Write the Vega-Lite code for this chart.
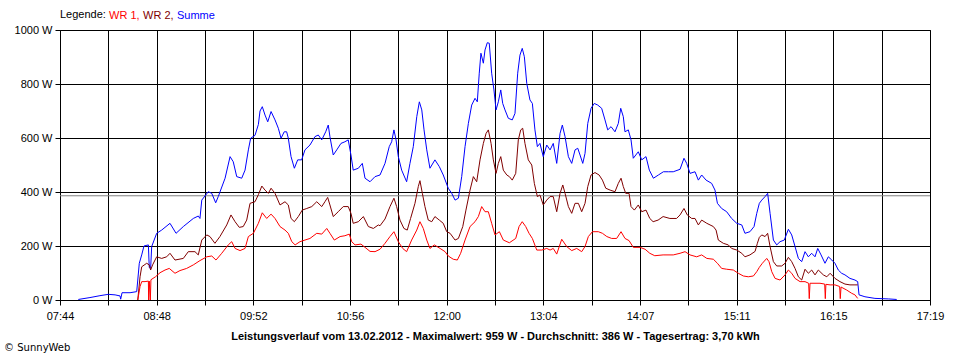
{
  "$schema": "https://vega.github.io/schema/vega-lite/v6.json",
  "width": 870,
  "height": 270,
  "autosize": "none",
  "padding": {"left": 60, "top": 30, "right": 30, "bottom": 60},
  "background": "white",
  "config": {
    "font": "Liberation Sans",
    "view": {"stroke": "black", "strokeWidth": 1},
    "axis": {"labelFont": "Liberation Sans", "labelFontSize": 11, "labelColor": "black", "titleFont": "Liberation Sans"}
  },
  "title": {"text": "© SunnyWeb", "orient": "bottom", "anchor": "start", "frame": "bounds", "fontSize": 10, "fontWeight": "normal", "color": "black", "offset": 2, "dx": -10, "font": "DejaVu Sans"},
  "layer": [
    {
      "data": {"values": [{"label": "Durchschnitt", "watt": 386}]},
      "mark": {"type": "rule", "color": "#808080", "strokeWidth": 1},
      "encoding": {"y": {"field": "watt", "type": "quantitative", "scale": {"domain": [0, 1000]}}}
    },
    {
      "data": {"values": [
        {"series":"Summe","minute":476.1,"watt":2},{"series":"Summe","minute":483.8,"watt":9},{"series":"Summe","minute":490.4,"watt":16},{"series":"Summe","minute":495.9,"watt":21},{"series":"Summe","minute":500.4,"watt":19},{"series":"Summe","minute":503.7,"watt":15},{"series":"Summe","minute":504.1,"watt":3},{"series":"Summe","minute":505.0,"watt":27},{"series":"Summe","minute":510.3,"watt":27},{"series":"Summe","minute":514.7,"watt":31},{"series":"Summe","minute":515.4,"watt":74},{"series":"Summe","minute":516.4,"watt":136},{"series":"Summe","minute":518.0,"watt":167},{"series":"Summe","minute":519.5,"watt":200},{"series":"Summe","minute":522.4,"watt":204},{"series":"Summe","minute":523.0,"watt":120},{"series":"Summe","minute":523.9,"watt":117},{"series":"Summe","minute":524.6,"watt":198},{"series":"Summe","minute":527.9,"watt":247},{"series":"Summe","minute":531.2,"watt":259},{"series":"Summe","minute":536.7,"watt":284},{"series":"Summe","minute":540.7,"watt":247},{"series":"Summe","minute":545.5,"watt":272},{"series":"Summe","minute":552.1,"watt":302},{"series":"Summe","minute":555.4,"watt":311},{"series":"Summe","minute":556.5,"watt":302},{"series":"Summe","minute":557.7,"watt":370},{"series":"Summe","minute":562.0,"watt":401},{"series":"Summe","minute":564.3,"watt":395},{"series":"Summe","minute":566.9,"watt":360},{"series":"Summe","minute":568.6,"watt":383},{"series":"Summe","minute":573.1,"watt":451},{"series":"Summe","minute":576.4,"watt":531},{"series":"Summe","minute":578.5,"watt":512},{"series":"Summe","minute":580.8,"watt":457},{"series":"Summe","minute":584.1,"watt":451},{"series":"Summe","minute":586.3,"watt":481},{"series":"Summe","minute":588.5,"watt":556},{"series":"Summe","minute":590.0,"watt":599},{"series":"Summe","minute":592.9,"watt":610},{"series":"Summe","minute":595.1,"watt":650},{"series":"Summe","minute":596.2,"watt":700},{"series":"Summe","minute":597.7,"watt":716},{"series":"Summe","minute":599.5,"watt":685},{"series":"Summe","minute":601.3,"watt":660},{"series":"Summe","minute":603.5,"watt":698},{"series":"Summe","minute":606.1,"watt":667},{"series":"Summe","minute":608.3,"watt":636},{"series":"Summe","minute":610.1,"watt":599},{"series":"Summe","minute":612.2,"watt":623},{"series":"Summe","minute":613.8,"watt":623},{"series":"Summe","minute":614.9,"watt":599},{"series":"Summe","minute":616.7,"watt":531},{"series":"Summe","minute":618.9,"watt":488},{"series":"Summe","minute":621.1,"watt":519},{"series":"Summe","minute":623.7,"watt":519},{"series":"Summe","minute":625.9,"watt":556},{"series":"Summe","minute":629.2,"watt":574},{"series":"Summe","minute":632.5,"watt":605},{"series":"Summe","minute":634.7,"watt":611},{"series":"Summe","minute":637.0,"watt":593},{"series":"Summe","minute":639.6,"watt":623},{"series":"Summe","minute":641.3,"watt":648},{"series":"Summe","minute":642.4,"watt":605},{"series":"Summe","minute":644.6,"watt":537},{"series":"Summe","minute":646.9,"watt":556},{"series":"Summe","minute":649.7,"watt":580},{"series":"Summe","minute":652.3,"watt":586},{"series":"Summe","minute":654.5,"watt":593},{"series":"Summe","minute":656.3,"watt":537},{"series":"Summe","minute":657.8,"watt":481},{"series":"Summe","minute":661.2,"watt":488},{"series":"Summe","minute":663.8,"watt":506},{"series":"Summe","minute":665.6,"watt":451},{"series":"Summe","minute":668.9,"watt":438},{"series":"Summe","minute":672.2,"watt":457},{"series":"Summe","minute":675.5,"watt":463},{"series":"Summe","minute":678.8,"watt":506},{"series":"Summe","minute":681.6,"watt":568},{"series":"Summe","minute":683.2,"watt":586},{"series":"Summe","minute":684.7,"watt":630},{"series":"Summe","minute":686.1,"watt":593},{"series":"Summe","minute":687.6,"watt":531},{"series":"Summe","minute":689.8,"watt":481},{"series":"Summe","minute":693.1,"watt":438},{"series":"Summe","minute":695.3,"watt":506},{"series":"Summe","minute":697.5,"watt":568},{"series":"Summe","minute":699.8,"watt":679},{"series":"Summe","minute":701.5,"watt":734},{"series":"Summe","minute":703.1,"watt":704},{"series":"Summe","minute":704.6,"watt":630},{"series":"Summe","minute":706.4,"watt":556},{"series":"Summe","minute":708.5,"watt":488},{"series":"Summe","minute":711.8,"watt":519},{"series":"Summe","minute":714.7,"watt":494},{"series":"Summe","minute":717.3,"watt":463},{"series":"Summe","minute":720.6,"watt":414},{"series":"Summe","minute":722.9,"watt":395},{"series":"Summe","minute":725.1,"watt":370},{"series":"Summe","minute":727.3,"watt":377},{"series":"Summe","minute":729.5,"watt":457},{"series":"Summe","minute":731.7,"watt":568},{"series":"Summe","minute":733.9,"watt":654},{"series":"Summe","minute":736.1,"watt":722},{"series":"Summe","minute":738.3,"watt":747},{"series":"Summe","minute":739.8,"watt":734},{"series":"Summe","minute":741.1,"watt":840},{"series":"Summe","minute":742.2,"watt":914},{"series":"Summe","minute":743.8,"watt":877},{"series":"Summe","minute":744.9,"watt":926},{"series":"Summe","minute":746.4,"watt":953},{"series":"Summe","minute":747.7,"watt":951},{"series":"Summe","minute":749.3,"watt":840},{"series":"Summe","minute":750.8,"watt":778},{"series":"Summe","minute":752.2,"watt":704},{"series":"Summe","minute":753.7,"watt":734},{"series":"Summe","minute":755.3,"watt":778},{"series":"Summe","minute":756.6,"watt":728},{"series":"Summe","minute":758.1,"watt":704},{"series":"Summe","minute":760.3,"watt":673},{"series":"Summe","minute":762.9,"watt":667},{"series":"Summe","minute":764.7,"watt":691},{"series":"Summe","minute":766.5,"watt":840},{"series":"Summe","minute":768.0,"watt":907},{"series":"Summe","minute":769.5,"watt":932},{"series":"Summe","minute":770.9,"watt":901},{"series":"Summe","minute":772.5,"watt":802},{"series":"Summe","minute":774.6,"watt":741},{"series":"Summe","minute":776.2,"watt":728},{"series":"Summe","minute":777.9,"watt":630},{"series":"Summe","minute":779.5,"watt":568},{"series":"Summe","minute":781.2,"watt":580},{"series":"Summe","minute":783.4,"watt":531},{"series":"Summe","minute":785.7,"watt":574},{"series":"Summe","minute":787.9,"watt":556},{"series":"Summe","minute":790.0,"watt":580},{"series":"Summe","minute":792.3,"watt":506},{"series":"Summe","minute":794.5,"watt":617},{"series":"Summe","minute":796.0,"watt":648},{"series":"Summe","minute":797.8,"watt":605},{"series":"Summe","minute":800.0,"watt":531},{"series":"Summe","minute":802.2,"watt":506},{"series":"Summe","minute":804.4,"watt":556},{"series":"Summe","minute":806.2,"watt":562},{"series":"Summe","minute":807.7,"watt":537},{"series":"Summe","minute":809.5,"watt":506},{"series":"Summe","minute":811.0,"watt":543},{"series":"Summe","minute":812.8,"watt":654},{"series":"Summe","minute":815.0,"watt":710},{"series":"Summe","minute":817.1,"watt":728},{"series":"Summe","minute":819.4,"watt":722},{"series":"Summe","minute":822.0,"watt":710},{"series":"Summe","minute":824.2,"watt":667},{"series":"Summe","minute":826.0,"watt":630},{"series":"Summe","minute":828.2,"watt":642},{"series":"Summe","minute":830.8,"watt":623},{"series":"Summe","minute":833.0,"watt":654},{"series":"Summe","minute":834.6,"watt":710},{"series":"Summe","minute":836.3,"watt":679},{"series":"Summe","minute":837.4,"watt":623},{"series":"Summe","minute":839.6,"watt":630},{"series":"Summe","minute":841.4,"watt":593},{"series":"Summe","minute":842.9,"watt":525},{"series":"Summe","minute":846.2,"watt":549},{"series":"Summe","minute":848.5,"watt":519},{"series":"Summe","minute":851.3,"watt":531},{"series":"Summe","minute":853.5,"watt":481},{"series":"Summe","minute":856.2,"watt":451},{"series":"Summe","minute":859.5,"watt":463},{"series":"Summe","minute":862.8,"watt":475},{"series":"Summe","minute":866.1,"watt":475},{"series":"Summe","minute":869.3,"watt":475},{"series":"Summe","minute":873.8,"watt":484},{"series":"Summe","minute":876.4,"watt":525},{"series":"Summe","minute":878.2,"watt":506},{"series":"Summe","minute":880.4,"watt":469},{"series":"Summe","minute":883.7,"watt":475},{"series":"Summe","minute":885.9,"watt":444},{"series":"Summe","minute":888.1,"watt":463},{"series":"Summe","minute":891.0,"watt":444},{"series":"Summe","minute":894.7,"watt":432},{"series":"Summe","minute":896.9,"watt":407},{"series":"Summe","minute":898.5,"watt":358},{"series":"Summe","minute":901.3,"watt":339},{"series":"Summe","minute":904.6,"watt":327},{"series":"Summe","minute":907.9,"watt":302},{"series":"Summe","minute":911.3,"watt":284},{"series":"Summe","minute":914.6,"watt":278},{"series":"Summe","minute":916.7,"watt":247},{"series":"Summe","minute":920.0,"watt":253},{"series":"Summe","minute":922.7,"watt":272},{"series":"Summe","minute":924.5,"watt":321},{"series":"Summe","minute":926.2,"watt":358},{"series":"Summe","minute":927.8,"watt":370},{"series":"Summe","minute":930.0,"watt":383},{"series":"Summe","minute":931.7,"watt":395},{"series":"Summe","minute":933.3,"watt":321},{"series":"Summe","minute":935.5,"watt":222},{"series":"Summe","minute":937.7,"watt":204},{"series":"Summe","minute":939.9,"watt":216},{"series":"Summe","minute":942.7,"watt":222},{"series":"Summe","minute":945.4,"watt":262},{"series":"Summe","minute":947.6,"watt":241},{"series":"Summe","minute":949.8,"watt":198},{"series":"Summe","minute":952.0,"watt":154},{"series":"Summe","minute":954.2,"watt":142},{"series":"Summe","minute":956.4,"watt":179},{"series":"Summe","minute":958.6,"watt":160},{"series":"Summe","minute":960.8,"watt":173},{"series":"Summe","minute":963.0,"watt":160},{"series":"Summe","minute":964.8,"watt":191},{"series":"Summe","minute":967.0,"watt":167},{"series":"Summe","minute":969.6,"watt":136},{"series":"Summe","minute":971.8,"watt":160},{"series":"Summe","minute":974.1,"watt":148},{"series":"Summe","minute":976.2,"watt":136},{"series":"Summe","minute":978.4,"watt":111},{"series":"Summe","minute":980.6,"watt":99},{"series":"Summe","minute":982.8,"watt":93},{"series":"Summe","minute":986.1,"watt":80},{"series":"Summe","minute":989.4,"watt":74},{"series":"Summe","minute":991.2,"watt":68},{"series":"Summe","minute":992.1,"watt":19},{"series":"Summe","minute":996.0,"watt":12},{"series":"Summe","minute":1002.6,"watt":6},{"series":"Summe","minute":1011.4,"watt":4},{"series":"Summe","minute":1017.0,"watt":2},

        {"series":"WR 2","minute":515.4,"watt":0},{"series":"WR 2","minute":516.9,"watt":86},{"series":"WR 2","minute":518.0,"watt":123},{"series":"WR 2","minute":521.3,"watt":136},{"series":"WR 2","minute":523.0,"watt":130},{"series":"WR 2","minute":523.9,"watt":111},{"series":"WR 2","minute":525.2,"watt":130},{"series":"WR 2","minute":527.9,"watt":160},{"series":"WR 2","minute":531.2,"watt":154},{"series":"WR 2","minute":534.5,"watt":160},{"series":"WR 2","minute":536.7,"watt":173},{"series":"WR 2","minute":540.0,"watt":148},{"series":"WR 2","minute":545.5,"watt":154},{"series":"WR 2","minute":548.8,"watt":179},{"series":"WR 2","minute":553.2,"watt":179},{"series":"WR 2","minute":555.4,"watt":167},{"series":"WR 2","minute":557.7,"watt":222},{"series":"WR 2","minute":561.0,"watt":241},{"series":"WR 2","minute":563.1,"watt":235},{"series":"WR 2","minute":566.4,"watt":210},{"series":"WR 2","minute":569.7,"watt":235},{"series":"WR 2","minute":574.2,"watt":278},{"series":"WR 2","minute":577.0,"watt":315},{"series":"WR 2","minute":579.7,"watt":290},{"series":"WR 2","minute":582.5,"watt":269},{"series":"WR 2","minute":585.1,"watt":272},{"series":"WR 2","minute":587.4,"watt":296},{"series":"WR 2","minute":589.6,"watt":358},{"series":"WR 2","minute":592.9,"watt":364},{"series":"WR 2","minute":595.1,"watt":390},{"series":"WR 2","minute":597.4,"watt":422},{"series":"WR 2","minute":599.5,"watt":407},{"series":"WR 2","minute":601.7,"watt":395},{"series":"WR 2","minute":603.5,"watt":414},{"series":"WR 2","minute":606.1,"watt":395},{"series":"WR 2","minute":609.4,"watt":352},{"series":"WR 2","minute":612.7,"watt":364},{"series":"WR 2","minute":614.9,"watt":352},{"series":"WR 2","minute":616.7,"watt":302},{"series":"WR 2","minute":618.9,"watt":290},{"series":"WR 2","minute":621.5,"watt":309},{"series":"WR 2","minute":624.1,"watt":333},{"series":"WR 2","minute":627.1,"watt":339},{"series":"WR 2","minute":630.4,"watt":346},{"series":"WR 2","minute":633.7,"watt":364},{"series":"WR 2","minute":637.0,"watt":346},{"series":"WR 2","minute":639.1,"watt":364},{"series":"WR 2","minute":640.9,"watt":380},{"series":"WR 2","minute":642.4,"watt":352},{"series":"WR 2","minute":644.6,"watt":309},{"series":"WR 2","minute":647.9,"watt":327},{"series":"WR 2","minute":651.2,"watt":346},{"series":"WR 2","minute":654.5,"watt":346},{"series":"WR 2","minute":656.3,"watt":321},{"series":"WR 2","minute":657.8,"watt":284},{"series":"WR 2","minute":661.2,"watt":290},{"series":"WR 2","minute":664.5,"watt":309},{"series":"WR 2","minute":667.8,"watt":272},{"series":"WR 2","minute":671.1,"watt":265},{"series":"WR 2","minute":674.4,"watt":278},{"series":"WR 2","minute":675.5,"watt":275},{"series":"WR 2","minute":678.8,"watt":300},{"series":"WR 2","minute":682.1,"watt":346},{"series":"WR 2","minute":684.7,"watt":377},{"series":"WR 2","minute":686.5,"watt":346},{"series":"WR 2","minute":688.7,"watt":296},{"series":"WR 2","minute":691.3,"watt":265},{"series":"WR 2","minute":693.5,"watt":259},{"series":"WR 2","minute":695.7,"watt":302},{"series":"WR 2","minute":698.6,"watt":358},{"series":"WR 2","minute":700.8,"watt":420},{"series":"WR 2","minute":701.9,"watt":442},{"series":"WR 2","minute":703.5,"watt":395},{"series":"WR 2","minute":705.2,"watt":346},{"series":"WR 2","minute":707.4,"watt":296},{"series":"WR 2","minute":709.7,"watt":290},{"series":"WR 2","minute":711.8,"watt":309},{"series":"WR 2","minute":714.7,"watt":296},{"series":"WR 2","minute":717.3,"watt":284},{"series":"WR 2","minute":719.6,"watt":253},{"series":"WR 2","minute":721.8,"watt":247},{"series":"WR 2","minute":725.1,"watt":222},{"series":"WR 2","minute":727.3,"watt":228},{"series":"WR 2","minute":730.2,"watt":272},{"series":"WR 2","minute":732.3,"watt":333},{"series":"WR 2","minute":735.0,"watt":407},{"series":"WR 2","minute":737.2,"watt":457},{"series":"WR 2","minute":739.4,"watt":438},{"series":"WR 2","minute":741.6,"watt":519},{"series":"WR 2","minute":743.8,"watt":580},{"series":"WR 2","minute":745.6,"watt":617},{"series":"WR 2","minute":747.1,"watt":630},{"series":"WR 2","minute":748.9,"watt":580},{"series":"WR 2","minute":750.4,"watt":519},{"series":"WR 2","minute":752.2,"watt":469},{"series":"WR 2","minute":753.7,"watt":506},{"series":"WR 2","minute":755.3,"watt":531},{"series":"WR 2","minute":757.0,"watt":481},{"series":"WR 2","minute":759.3,"watt":463},{"series":"WR 2","minute":761.0,"watt":457},{"series":"WR 2","minute":762.9,"watt":444},{"series":"WR 2","minute":765.2,"watt":469},{"series":"WR 2","minute":766.9,"watt":593},{"series":"WR 2","minute":768.5,"watt":630},{"series":"WR 2","minute":769.8,"watt":636},{"series":"WR 2","minute":771.3,"watt":580},{"series":"WR 2","minute":773.5,"watt":519},{"series":"WR 2","minute":775.8,"watt":500},{"series":"WR 2","minute":777.5,"watt":432},{"series":"WR 2","minute":779.5,"watt":383},{"series":"WR 2","minute":781.2,"watt":389},{"series":"WR 2","minute":783.4,"watt":352},{"series":"WR 2","minute":785.7,"watt":370},{"series":"WR 2","minute":787.9,"watt":383},{"series":"WR 2","minute":790.0,"watt":383},{"series":"WR 2","minute":792.3,"watt":327},{"series":"WR 2","minute":794.5,"watt":395},{"series":"WR 2","minute":796.3,"watt":426},{"series":"WR 2","minute":797.8,"watt":395},{"series":"WR 2","minute":800.0,"watt":346},{"series":"WR 2","minute":802.2,"watt":321},{"series":"WR 2","minute":804.4,"watt":358},{"series":"WR 2","minute":806.6,"watt":358},{"series":"WR 2","minute":808.8,"watt":327},{"series":"WR 2","minute":811.0,"watt":358},{"series":"WR 2","minute":812.8,"watt":420},{"series":"WR 2","minute":815.0,"watt":463},{"series":"WR 2","minute":817.6,"watt":472},{"series":"WR 2","minute":820.3,"watt":463},{"series":"WR 2","minute":822.5,"watt":444},{"series":"WR 2","minute":824.7,"watt":414},{"series":"WR 2","minute":827.6,"watt":407},{"series":"WR 2","minute":830.8,"watt":401},{"series":"WR 2","minute":833.0,"watt":432},{"series":"WR 2","minute":834.8,"watt":451},{"series":"WR 2","minute":836.3,"watt":420},{"series":"WR 2","minute":837.9,"watt":395},{"series":"WR 2","minute":840.1,"watt":395},{"series":"WR 2","minute":841.4,"watt":346},{"series":"WR 2","minute":843.6,"watt":333},{"series":"WR 2","minute":846.2,"watt":352},{"series":"WR 2","minute":848.5,"watt":327},{"series":"WR 2","minute":851.3,"watt":333},{"series":"WR 2","minute":853.8,"watt":302},{"series":"WR 2","minute":856.0,"watt":290},{"series":"WR 2","minute":859.3,"watt":296},{"series":"WR 2","minute":862.6,"watt":309},{"series":"WR 2","minute":867.1,"watt":302},{"series":"WR 2","minute":871.5,"watt":302},{"series":"WR 2","minute":873.8,"watt":315},{"series":"WR 2","minute":876.4,"watt":339},{"series":"WR 2","minute":878.6,"watt":315},{"series":"WR 2","minute":881.5,"watt":302},{"series":"WR 2","minute":883.7,"watt":302},{"series":"WR 2","minute":885.9,"watt":278},{"series":"WR 2","minute":888.1,"watt":296},{"series":"WR 2","minute":891.5,"watt":284},{"series":"WR 2","minute":895.8,"watt":272},{"series":"WR 2","minute":897.6,"watt":259},{"series":"WR 2","minute":899.1,"watt":222},{"series":"WR 2","minute":902.4,"watt":210},{"series":"WR 2","minute":905.7,"watt":204},{"series":"WR 2","minute":907.9,"watt":191},{"series":"WR 2","minute":911.3,"watt":185},{"series":"WR 2","minute":914.6,"watt":173},{"series":"WR 2","minute":916.7,"watt":160},{"series":"WR 2","minute":920.0,"watt":167},{"series":"WR 2","minute":923.4,"watt":180},{"series":"WR 2","minute":924.9,"watt":210},{"series":"WR 2","minute":926.2,"watt":232},{"series":"WR 2","minute":927.8,"watt":241},{"series":"WR 2","minute":930.0,"watt":235},{"series":"WR 2","minute":931.7,"watt":247},{"series":"WR 2","minute":933.3,"watt":198},{"series":"WR 2","minute":935.5,"watt":142},{"series":"WR 2","minute":937.7,"watt":126},{"series":"WR 2","minute":941.0,"watt":126},{"series":"WR 2","minute":943.2,"watt":136},{"series":"WR 2","minute":945.4,"watt":158},{"series":"WR 2","minute":947.6,"watt":142},{"series":"WR 2","minute":949.8,"watt":117},{"series":"WR 2","minute":952.0,"watt":86},{"series":"WR 2","minute":954.2,"watt":74},{"series":"WR 2","minute":956.4,"watt":114},{"series":"WR 2","minute":958.6,"watt":99},{"series":"WR 2","minute":960.8,"watt":111},{"series":"WR 2","minute":963.0,"watt":93},{"series":"WR 2","minute":965.2,"watt":111},{"series":"WR 2","minute":968.5,"watt":93},{"series":"WR 2","minute":970.8,"watt":86},{"series":"WR 2","minute":973.0,"watt":99},{"series":"WR 2","minute":976.2,"watt":80},{"series":"WR 2","minute":979.5,"watt":68},{"series":"WR 2","minute":982.8,"watt":59},{"series":"WR 2","minute":986.1,"watt":56},{"series":"WR 2","minute":989.4,"watt":56},{"series":"WR 2","minute":991.2,"watt":56},

        {"series":"WR 1","minute":515.4,"watt":0},{"series":"WR 1","minute":516.9,"watt":50},{"series":"WR 1","minute":518.0,"watt":68},{"series":"WR 1","minute":520.2,"watt":68},{"series":"WR 1","minute":522.4,"watt":70},{"series":"WR 1","minute":522.6,"watt":0},{"series":"WR 1","minute":523.0,"watt":70},{"series":"WR 1","minute":523.7,"watt":0},{"series":"WR 1","minute":524.1,"watt":75},{"series":"WR 1","minute":527.1,"watt":86},{"series":"WR 1","minute":530.1,"watt":101},{"series":"WR 1","minute":533.4,"watt":111},{"series":"WR 1","minute":536.2,"watt":117},{"series":"WR 1","minute":540.0,"watt":99},{"series":"WR 1","minute":543.3,"watt":109},{"series":"WR 1","minute":547.7,"watt":117},{"series":"WR 1","minute":552.1,"watt":130},{"series":"WR 1","minute":556.5,"watt":146},{"series":"WR 1","minute":561.0,"watt":160},{"series":"WR 1","minute":564.3,"watt":163},{"series":"WR 1","minute":567.1,"watt":148},{"series":"WR 1","minute":570.9,"watt":173},{"series":"WR 1","minute":575.2,"watt":204},{"series":"WR 1","minute":577.5,"watt":216},{"series":"WR 1","minute":579.7,"watt":191},{"series":"WR 1","minute":583.0,"watt":183},{"series":"WR 1","minute":586.3,"watt":191},{"series":"WR 1","minute":588.5,"watt":235},{"series":"WR 1","minute":591.8,"watt":247},{"series":"WR 1","minute":595.1,"watt":284},{"series":"WR 1","minute":597.7,"watt":323},{"series":"WR 1","minute":600.6,"watt":302},{"series":"WR 1","minute":603.5,"watt":318},{"series":"WR 1","minute":606.1,"watt":302},{"series":"WR 1","minute":609.4,"watt":272},{"series":"WR 1","minute":612.7,"watt":259},{"series":"WR 1","minute":614.9,"watt":247},{"series":"WR 1","minute":617.2,"watt":216},{"series":"WR 1","minute":619.4,"watt":204},{"series":"WR 1","minute":622.6,"watt":216},{"series":"WR 1","minute":625.9,"watt":222},{"series":"WR 1","minute":629.2,"watt":228},{"series":"WR 1","minute":633.7,"watt":247},{"series":"WR 1","minute":637.0,"watt":244},{"series":"WR 1","minute":640.3,"watt":265},{"series":"WR 1","minute":642.4,"watt":247},{"series":"WR 1","minute":645.3,"watt":222},{"series":"WR 1","minute":649.1,"watt":235},{"series":"WR 1","minute":652.3,"watt":238},{"series":"WR 1","minute":655.2,"watt":244},{"series":"WR 1","minute":656.8,"watt":216},{"series":"WR 1","minute":659.0,"watt":204},{"series":"WR 1","minute":662.9,"watt":207},{"series":"WR 1","minute":665.6,"watt":195},{"series":"WR 1","minute":668.9,"watt":180},{"series":"WR 1","minute":672.2,"watt":179},{"series":"WR 1","minute":675.5,"watt":188},{"series":"WR 1","minute":678.8,"watt":210},{"series":"WR 1","minute":682.1,"watt":235},{"series":"WR 1","minute":684.7,"watt":253},{"series":"WR 1","minute":687.6,"watt":216},{"series":"WR 1","minute":690.5,"watt":191},{"series":"WR 1","minute":693.1,"watt":179},{"series":"WR 1","minute":696.4,"watt":222},{"series":"WR 1","minute":699.8,"watt":259},{"series":"WR 1","minute":701.9,"watt":290},{"series":"WR 1","minute":704.1,"watt":265},{"series":"WR 1","minute":706.4,"watt":222},{"series":"WR 1","minute":708.5,"watt":191},{"series":"WR 1","minute":711.4,"watt":204},{"series":"WR 1","minute":715.2,"watt":191},{"series":"WR 1","minute":718.5,"watt":179},{"series":"WR 1","minute":720.6,"watt":163},{"series":"WR 1","minute":723.9,"watt":151},{"series":"WR 1","minute":726.6,"watt":148},{"series":"WR 1","minute":728.8,"watt":173},{"series":"WR 1","minute":731.7,"watt":222},{"series":"WR 1","minute":735.0,"watt":272},{"series":"WR 1","minute":738.3,"watt":290},{"series":"WR 1","minute":740.5,"watt":309},{"series":"WR 1","minute":742.7,"watt":346},{"series":"WR 1","minute":744.9,"watt":327},{"series":"WR 1","minute":747.1,"watt":327},{"series":"WR 1","minute":749.3,"watt":284},{"series":"WR 1","minute":751.5,"watt":241},{"series":"WR 1","minute":754.4,"watt":253},{"series":"WR 1","minute":757.0,"watt":222},{"series":"WR 1","minute":761.0,"watt":212},{"series":"WR 1","minute":765.2,"watt":228},{"series":"WR 1","minute":767.4,"watt":272},{"series":"WR 1","minute":769.5,"watt":290},{"series":"WR 1","minute":771.8,"watt":272},{"series":"WR 1","minute":774.0,"watt":247},{"series":"WR 1","minute":776.2,"watt":228},{"series":"WR 1","minute":779.1,"watt":185},{"series":"WR 1","minute":782.4,"watt":185},{"series":"WR 1","minute":785.7,"watt":191},{"series":"WR 1","minute":787.9,"watt":185},{"series":"WR 1","minute":790.0,"watt":191},{"series":"WR 1","minute":792.3,"watt":170},{"series":"WR 1","minute":795.6,"watt":225},{"series":"WR 1","minute":798.9,"watt":198},{"series":"WR 1","minute":802.2,"watt":183},{"series":"WR 1","minute":805.5,"watt":191},{"series":"WR 1","minute":808.8,"watt":179},{"series":"WR 1","minute":811.0,"watt":198},{"series":"WR 1","minute":813.2,"watt":235},{"series":"WR 1","minute":815.9,"watt":253},{"series":"WR 1","minute":819.8,"watt":253},{"series":"WR 1","minute":822.5,"watt":247},{"series":"WR 1","minute":825.4,"watt":235},{"series":"WR 1","minute":828.6,"watt":228},{"series":"WR 1","minute":831.9,"watt":228},{"series":"WR 1","minute":834.8,"watt":253},{"series":"WR 1","minute":837.4,"watt":228},{"series":"WR 1","minute":840.1,"watt":220},{"series":"WR 1","minute":842.9,"watt":195},{"series":"WR 1","minute":847.4,"watt":195},{"series":"WR 1","minute":850.7,"watt":188},{"series":"WR 1","minute":853.8,"watt":173},{"series":"WR 1","minute":857.1,"watt":164},{"series":"WR 1","minute":862.6,"watt":167},{"series":"WR 1","minute":869.3,"watt":167},{"series":"WR 1","minute":873.8,"watt":173},{"series":"WR 1","minute":877.1,"watt":179},{"series":"WR 1","minute":880.4,"watt":167},{"series":"WR 1","minute":884.8,"watt":160},{"series":"WR 1","minute":888.1,"watt":167},{"series":"WR 1","minute":891.5,"watt":154},{"series":"WR 1","minute":895.8,"watt":151},{"series":"WR 1","minute":898.5,"watt":136},{"series":"WR 1","minute":901.3,"watt":117},{"series":"WR 1","minute":904.6,"watt":114},{"series":"WR 1","minute":909.0,"watt":111},{"series":"WR 1","minute":912.3,"watt":99},{"series":"WR 1","minute":915.6,"watt":89},{"series":"WR 1","minute":918.9,"watt":86},{"series":"WR 1","minute":922.3,"watt":89},{"series":"WR 1","minute":924.5,"watt":105},{"series":"WR 1","minute":926.2,"watt":121},{"series":"WR 1","minute":928.2,"watt":136},{"series":"WR 1","minute":931.1,"watt":154},{"series":"WR 1","minute":932.6,"watt":142},{"series":"WR 1","minute":934.4,"watt":105},{"series":"WR 1","minute":936.6,"watt":80},{"series":"WR 1","minute":939.9,"watt":74},{"series":"WR 1","minute":943.2,"watt":93},{"series":"WR 1","minute":945.4,"watt":111},{"series":"WR 1","minute":947.6,"watt":99},{"series":"WR 1","minute":949.8,"watt":80},{"series":"WR 1","minute":953.1,"watt":68},{"series":"WR 1","minute":956.4,"watt":68},{"series":"WR 1","minute":958.8,"watt":62},{"series":"WR 1","minute":959.2,"watt":5},{"series":"WR 1","minute":959.7,"watt":62},{"series":"WR 1","minute":963.0,"watt":62},{"series":"WR 1","minute":966.3,"watt":62},{"series":"WR 1","minute":969.4,"watt":59},{"series":"WR 1","minute":969.8,"watt":5},{"series":"WR 1","minute":970.2,"watt":58},{"series":"WR 1","minute":973.0,"watt":56},{"series":"WR 1","minute":976.2,"watt":56},{"series":"WR 1","minute":979.3,"watt":50},{"series":"WR 1","minute":979.7,"watt":5},{"series":"WR 1","minute":980.2,"watt":48},{"series":"WR 1","minute":983.9,"watt":37},{"series":"WR 1","minute":987.2,"watt":25},{"series":"WR 1","minute":989.4,"watt":19},{"series":"WR 1","minute":991.2,"watt":6}
      ]},
      "mark": {"type": "line", "strokeWidth": 1, "interpolate": "linear"},
      "encoding": {
        "x": {
          "field": "minute", "type": "quantitative",
          "scale": {"domain": [464, 1039], "nice": false, "zero": false},
          "axis": {
            "values": [464, 495.9444, 527.8889, 559.8333, 591.7778, 623.7222, 655.6667, 687.6111, 719.5556, 751.5, 783.4444, 815.3889, 847.3333, 879.2778, 911.2222, 943.1667, 975.1111, 1007.0556, 1039],
            "labelExpr": "round((datum.value-464)/31.9444) % 2 == 1 ? '' : ['07:44','08:48','09:52','10:56','12:00','13:04','14:07','15:11','16:15','17:19'][round((datum.value-464)/63.8889)]",
            "labelFlush": false, "labelOverlap": false, "labelPadding": 5,
            "grid": true, "gridColor": "black", "gridOpacity": 1, "gridWidth": 1,
            "tickColor": "black", "tickSize": 5, "tickWidth": 1,
            "domainColor": "black", "domainWidth": 1,
            "title": "Leistungsverlauf vom 13.02.2012 - Maximalwert: 959 W - Durchschnitt: 386 W - Tagesertrag: 3,70 kWh",
            "titleFontWeight": "bold", "titleFontSize": 11, "titleColor": "black", "titlePadding": 9
          }
        },
        "y": {
          "field": "watt", "type": "quantitative",
          "scale": {"domain": [0, 1000], "nice": false},
          "axis": {
            "values": [0, 200, 400, 600, 800, 1000],
            "labelExpr": "datum.value + ' W'",
            "labelPadding": 3, "labelFlush": false,
            "grid": true, "gridColor": "black", "gridOpacity": 1, "gridWidth": 1,
            "tickColor": "black", "tickSize": 5, "tickWidth": 1,
            "domain": false, "title": null
          }
        },
        "color": {
          "field": "series", "type": "nominal",
          "scale": {"domain": ["WR 1", "WR 2", "Summe"], "range": ["#FF0000", "#800000", "#0000FF"]},
          "legend": {
            "orient": "none", "legendX": 0, "legendY": -20, "direction": "horizontal",
            "title": "Legende:", "titleOrient": "left", "titleFontWeight": "normal", "titleFontSize": 11, "titleColor": "black", "titlePadding": 3, "titleFont": "Liberation Sans",
            "labelFontSize": 11, "labelFont": "Liberation Sans",
            "labelExpr": "datum.label == 'Summe' ? datum.label : datum.label + ','",
            "symbolType": "circle", "symbolSize": 1, "symbolOpacity": 0, "symbolStrokeWidth": 0, "labelOffset": -11, "columnPadding": 3,
            "encode": {"labels": {"update": {"fill": {"scale": "color", "field": "value"}}}}
          }
        }
      }
    }
  ]
}
